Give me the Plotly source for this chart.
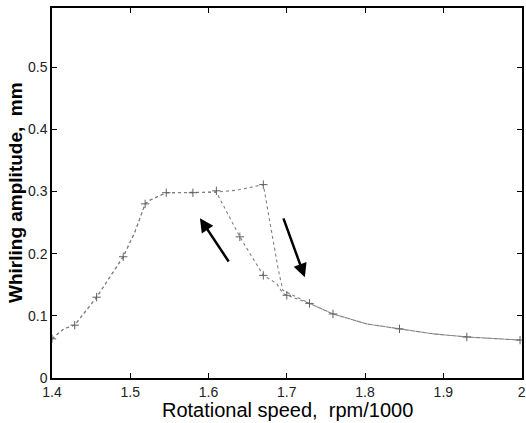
import plotly.graph_objects as go

# Increasing speed sweep (jump-down near 1.69 krpm)
up_speed = [1.400, 1.415, 1.429, 1.457, 1.491, 1.506, 1.519, 1.525, 1.546, 1.580,
            1.610, 1.636, 1.670, 1.676, 1.683, 1.689, 1.695, 1.729, 1.759, 1.802,
            1.844, 1.887, 1.930, 1.998]
up_amp = [0.063, 0.079, 0.085, 0.130, 0.195, 0.235, 0.280, 0.286, 0.298, 0.298,
          0.299, 0.302, 0.311, 0.268, 0.215, 0.175, 0.141, 0.120, 0.103, 0.087,
          0.079, 0.071, 0.066, 0.061]

# Decreasing speed sweep (jump-up near 1.61 krpm)
down_speed = [1.998, 1.930, 1.887, 1.844, 1.802, 1.759, 1.729, 1.700, 1.695, 1.687,
              1.670, 1.640, 1.610, 1.580, 1.546, 1.525, 1.519, 1.506, 1.491, 1.457,
              1.429, 1.415, 1.400]
down_amp = [0.061, 0.066, 0.071, 0.079, 0.087, 0.103, 0.120, 0.133, 0.136, 0.152,
            0.165, 0.227, 0.299, 0.298, 0.298, 0.286, 0.280, 0.235, 0.195, 0.130,
            0.085, 0.079, 0.063]

# Marker ('+') points
mark_speed = [1.400, 1.429, 1.457, 1.491, 1.519, 1.546, 1.580, 1.610, 1.670, 1.640,
              1.670, 1.700, 1.729, 1.759, 1.844, 1.930, 1.998]
mark_amp = [0.063, 0.085, 0.130, 0.195, 0.280, 0.298, 0.298, 0.301, 0.311, 0.227,
            0.165, 0.133, 0.120, 0.103, 0.079, 0.066, 0.061]

x_ticks = [1.4, 1.5, 1.6, 1.7, 1.8, 1.9, 2.0]
x_tick_text = ["1.4", "1.5", "1.6", "1.7", "1.8", "1.9", "2"]
y_ticks = [0, 0.1, 0.2, 0.3, 0.4, 0.5]
y_tick_text = ["0", "0.1", "0.2", "0.3", "0.4", "0.5"]

x_title = "Rotational speed,  rpm/1000"
y_title = "<b>Whirling amplitude,  mm</b>"

# Arrows: (tail_x, tail_y, head_x, head_y)
arrow_decrease = (1.627, 0.185, 1.589, 0.257)
arrow_increase = (1.695, 0.259, 1.723, 0.162)

fig = go.Figure()
fig.add_trace(go.Scatter(x=up_speed, y=up_amp, mode="lines",
                         line=dict(color="#808080", width=1.1, dash="dot"),
                         showlegend=False, hoverinfo="skip"))
fig.add_trace(go.Scatter(x=down_speed, y=down_amp, mode="lines",
                         line=dict(color="#808080", width=1.1, dash="dot"),
                         showlegend=False, hoverinfo="skip"))
fig.add_trace(go.Scatter(x=mark_speed, y=mark_amp, mode="markers",
                         marker=dict(symbol="cross-thin", size=6,
                                     line=dict(color="#606060", width=1)),
                         showlegend=False, hoverinfo="skip"))

for tx, ty, hx, hy in (arrow_decrease, arrow_increase):
    fig.add_annotation(x=hx, y=hy, ax=tx, ay=ty, xref="x", yref="y",
                       axref="x", ayref="y", text="", showarrow=True,
                       arrowhead=2, arrowsize=1.1, arrowwidth=2.5,
                       arrowcolor="black")

fig.add_annotation(text=x_title, xref="paper", yref="paper", x=0.5, y=0,
                   yshift=-32, yanchor="middle", showarrow=False,
                   font=dict(size=20, color="black"))
fig.add_annotation(text=y_title, xref="paper", yref="paper", x=0, y=0.5,
                   xshift=-37, xanchor="center", yanchor="middle", textangle=-90,
                   showarrow=False, font=dict(size=19, color="black"))

fig.update_layout(
    width=526, height=423,
    margin=dict(l=52, r=4, t=8, b=45, autoexpand=False),
    paper_bgcolor="white", plot_bgcolor="white",
    font=dict(family="Liberation Sans, Arial, sans-serif", color="black"),
)
fig.update_xaxes(range=[1.4, 2.0005], tickvals=x_ticks, ticktext=x_tick_text,
                 ticks="inside", ticklen=5, tickcolor="black", mirror="ticks",
                 showline=True, linecolor="black", linewidth=1.5,
                 showgrid=False, zeroline=False, automargin=False,
                 ticklabeloverflow="allow",
                 tickfont=dict(size=14, color="#222"))
fig.update_yaxes(range=[0, 0.595], tickvals=y_ticks, ticktext=y_tick_text,
                 ticks="inside", ticklen=5, tickcolor="black", mirror="ticks",
                 showline=True, linecolor="black", linewidth=1.5,
                 showgrid=False, zeroline=False, automargin=False,
                 tickfont=dict(size=14, color="#222"))

fig.write_html("out.html", config={"displayModeBar": False},
               post_script="document.body.style.margin='0';document.body.style.overflow='hidden';")
